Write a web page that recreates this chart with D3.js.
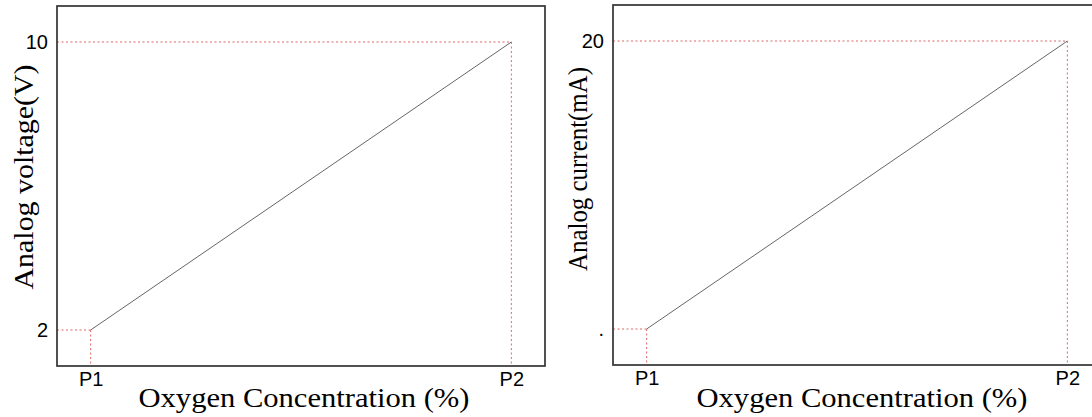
<!DOCTYPE html>
<html>
<head>
<meta charset="utf-8">
<script src="https://cdn.jsdelivr.net/npm/d3@7"></script>
<style>
  html, body { margin: 0; padding: 0; background: #fff; overflow: hidden; }
  svg { display: block; }
</style>
</head>
<body>
<svg id="chart" width="1092" height="417"></svg>
<script>
// ---- data ----
const xCategories = ["P1", "P2"];
const xPositions = [1, 2];
const voltageValues = [2, 10];
const voltageTickLabels = ["2", "10"];
const currentValues = [4, 20];
const currentTickLabels = [".", "20"];
const xTitle = "Oxygen Concentration (%)";
const voltageTitle = "Analog voltage(V)";
const currentTitle = "Analog current(mA)";

const svg = d3.select("#chart");
const SANS = "Arial, 'Liberation Sans', Helvetica, sans-serif";
const SERIF = "'Times New Roman', 'Liberation Serif', serif";

const panels = [
  { left: 57, right: 545, top: 6, bottom: 366, yDomain: [1, 11], values: voltageValues, tickLabels: voltageTickLabels,
    yTitle: voltageTitle, yTitleX: 33, yTitleY: 177, yTitleLen: 225, xTitleX: 304, xTitleLen: 331 },
  { left: 613, right: 1101, top: 5, bottom: 365, yDomain: [2, 22], values: currentValues, tickLabels: currentTickLabels,
    yTitle: currentTitle, yTitleX: 587, yTitleY: 169, yTitleLen: 204, xTitleX: 862, xTitleLen: 331 }
];

const red = "#e06666";

panels.forEach(p => {
  const g = svg.append("g");
  const x = d3.scaleLinear().domain([0.92, 2.08]).range([p.left, p.right]);
  const y = d3.scaleLinear().domain(p.yDomain).range([p.bottom, p.top]);

  const pts = xPositions.map((xv, i) => ({ x: xv, y: p.values[i] }));

  // red dotted guides
  pts.forEach(d => {
    g.append("line")
      .attr("x1", p.left).attr("x2", x(d.x))
      .attr("y1", y(d.y)).attr("y2", y(d.y))
      .attr("stroke", red).attr("stroke-width", 1).attr("stroke-dasharray", "2,2.5");
    g.append("line")
      .attr("x1", x(d.x)).attr("x2", x(d.x))
      .attr("y1", y(d.y)).attr("y2", p.bottom)
      .attr("stroke", red).attr("stroke-width", 1).attr("stroke-dasharray", "2,2.5");
  });

  // data line
  g.append("path")
    .datum(pts)
    .attr("fill", "none")
    .attr("stroke", "#666")
    .attr("stroke-width", 1)
    .attr("d", d3.line().x(d => x(d.x)).y(d => y(d.y)));

  // frame
  g.append("rect")
    .attr("x", p.left).attr("y", p.top)
    .attr("width", p.right - p.left).attr("height", p.bottom - p.top)
    .attr("fill", "none").attr("stroke", "#333").attr("stroke-width", 1.7);

  // y axis tick labels
  const yAxis = d3.axisLeft(y).tickValues(p.values).tickSize(0).tickPadding(9)
    .tickFormat((d, i) => p.tickLabels[i]);
  const ya = g.append("g").attr("transform", `translate(${p.left},0)`).call(yAxis)
    .attr("font-family", SANS).attr("font-size", 20);
  ya.select(".domain").remove();
  ya.selectAll("text").attr("font-family", SANS).attr("font-size", 20).attr("fill", "#000");

  // x axis tick labels
  const xAxis = d3.axisBottom(x).tickValues(xPositions).tickSize(0).tickPadding(6)
    .tickFormat((d, i) => xCategories[i]);
  const xa = g.append("g").attr("transform", `translate(0,${p.bottom})`).call(xAxis)
    .attr("font-family", SANS).attr("font-size", 20);
  xa.select(".domain").remove();
  xa.selectAll("text").attr("font-family", SANS).attr("font-size", 20).attr("fill", "#000");

  // titles
  g.append("text")
    .attr("x", p.xTitleX).attr("y", 407)
    .attr("text-anchor", "middle")
    .attr("font-family", SERIF).attr("font-size", 28).attr("fill", "#000")
    .attr("textLength", p.xTitleLen).attr("lengthAdjust", "spacingAndGlyphs")
    .text(xTitle);

  g.append("text")
    .attr("transform", `translate(${p.yTitleX},${p.yTitleY}) rotate(-90)`)
    .attr("text-anchor", "middle")
    .attr("font-family", SERIF).attr("font-size", 28).attr("fill", "#000")
    .attr("textLength", p.yTitleLen).attr("lengthAdjust", "spacingAndGlyphs")
    .text(p.yTitle);
});
</script>
</body>
</html>
